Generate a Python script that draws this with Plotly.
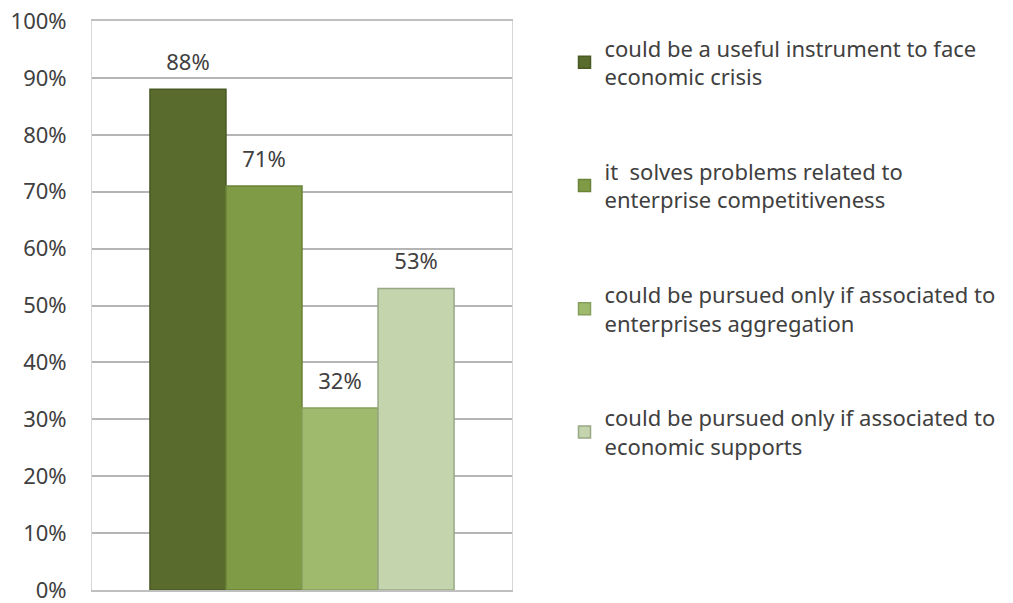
import plotly.graph_objects as go

# Survey answers: share of respondents agreeing with each statement
series_names = [
    "could be a useful instrument to face<br>economic crisis",
    "it  solves problems related to<br>enterprise competitiveness",
    "could be pursued only if associated to<br>enterprises aggregation",
    "could be pursued only if associated to<br>economic supports",
]
series_values = [0.88, 0.71, 0.32, 0.53]
series_colors = ["#596b2d", "#7f9b45", "#9fba6d", "#c4d4ad"]
edge_colors = ["#4a5a24", "#6a8338", "#85a05a", "#98a886"]
category = [""]

tick_vals = [i / 10 for i in range(11)]
tick_text = [f"{i * 10}%" for i in range(11)]

fig = go.Figure()
for i, (name, val) in enumerate(zip(series_names, series_values)):
    fig.add_trace(
        go.Bar(
            x=category,
            y=[val],
            name=name,
            legendgroup=f"g{i}",
            offsetgroup=f"g{i}",
            marker=dict(color=series_colors[i], line=dict(color=edge_colors[i], width=1.5)),
            hovertemplate="%{y:.0%}<extra></extra>",
        )
    )

# value labels, laid out in the same groups as the bars and lifted by an invisible marker
for i, val in enumerate(series_values):
    fig.add_trace(
        go.Scatter(
            x=category,
            y=[val],
            mode="markers+text",
            offsetgroup=f"g{i}",
            marker=dict(size=20, color="rgba(0,0,0,0)"),
            texttemplate="%{y:.0%}",
            textposition="top center",
            textfont=dict(size=22, color="#404040"),
            showlegend=False,
            hoverinfo="skip",
            cliponaxis=False,
        )
    )

fig.update_layout(
    width=1013,
    height=603,
    margin=dict(l=92, r=501, t=21, b=13),
    paper_bgcolor="white",
    plot_bgcolor="white",
    font=dict(family="Noto Sans", size=22, color="#404040"),
    barmode="group",
    bargap=0.276,
    bargroupgap=0,
    scattermode="group",
    scattergap=0.276,
    showlegend=True,
    legend=dict(
        x=1.125,
        y=0.989,
        xanchor="left",
        yanchor="top",
        traceorder="grouped",
        tracegroupgap=63,
        font=dict(size=22, color="#404040"),
        bgcolor="rgba(0,0,0,0)",
    ),
    xaxis=dict(
        showticklabels=False,
        showgrid=False,
        showline=True,
        linecolor="#bfbfbf",
        linewidth=2,
        mirror=True,
        ticks="",
        fixedrange=True,
    ),
    yaxis=dict(
        range=[0, 1],
        tickvals=tick_vals,
        ticktext=tick_text,
        ticklabeloverflow="allow",
        automargin=False,
        showgrid=True,
        gridcolor="#b5b5b5",
        gridwidth=2,
        showline=True,
        linecolor="#d6d6d6",
        linewidth=1,
        mirror=True,
        ticks="outside",
        ticklen=20,
        tickcolor="rgba(0,0,0,0)",
        zeroline=False,
        tickfont=dict(size=22, color="#404040"),
    ),
)

fig.write_html("out.html")
